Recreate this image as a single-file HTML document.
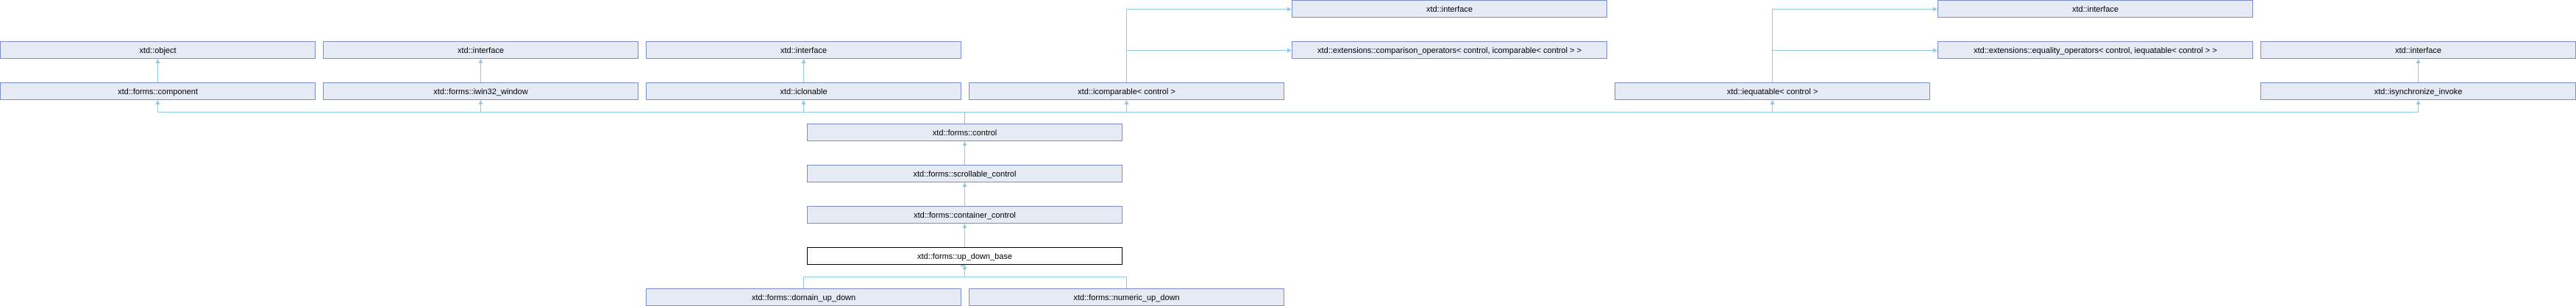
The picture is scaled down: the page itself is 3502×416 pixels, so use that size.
<!DOCTYPE html>
<html><head><style>
html,body{margin:0;padding:0;background:#fff;}
svg{display:block;}
text{font-family:"Liberation Sans",Arial,sans-serif;font-size:11px;fill:#000;}
</style></head><body>
<svg width="3502" height="416" xmlns="http://www.w3.org/2000/svg">
<defs>
<marker id="a" markerWidth="6" markerHeight="6" refX="5" refY="3" orient="auto" markerUnits="userSpaceOnUse">
<path d="M0,0 L6,3 L0,6 Z" fill="#8fcbe8"/>
</marker>
</defs>
<g fill="none" stroke="#8fcbe8" stroke-width="1">
<!-- bus -->
<path d="M214.5,152.5 H3287.5"/>
<path d="M214.5,152.5 V137" marker-end="url(#a)"/>
<path d="M653.5,152.5 V137" marker-end="url(#a)"/>
<path d="M1092.5,152.5 V137" marker-end="url(#a)"/>
<path d="M1531.5,152.5 V137" marker-end="url(#a)"/>
<path d="M2409.5,152.5 V137" marker-end="url(#a)"/>
<path d="M3287.5,152.5 V137" marker-end="url(#a)"/>
<path d="M1311.5,168 V152.5"/>
<!-- row 112->56 -->
<path d="M214.5,112 V81" marker-end="url(#a)"/>
<path d="M653.5,112 V81" marker-end="url(#a)"/>
<path d="M1092.5,112 V81" marker-end="url(#a)"/>
<path d="M3287.5,112 V81" marker-end="url(#a)"/>
<!-- icomparable -->
<path d="M1531.5,112 V12.5 H1755" marker-end="url(#a)"/>
<path d="M1531.5,68.5 H1755" marker-end="url(#a)"/>
<!-- iequatable -->
<path d="M2409.5,112 V12.5 H2633" marker-end="url(#a)"/>
<path d="M2409.5,68.5 H2633" marker-end="url(#a)"/>
<!-- chain -->
<path d="M1311.5,224 V193" marker-end="url(#a)"/>
<path d="M1311.5,280 V249" marker-end="url(#a)"/>
<path d="M1311.5,336 V305" marker-end="url(#a)"/>
<path d="M1311.5,361" marker-end="url(#a)"/>
<path d="M1311.5,376.5 V361" marker-end="url(#a)"/>
<path d="M1092.5,392 V376.5 H1531.5 V392"/>
</g>
<g stroke="#7b8fcc" stroke-width="1" fill="#e6eaf4">
<rect x="0.5" y="56.5" width="428" height="23"/>
<rect x="439.5" y="56.5" width="428" height="23"/>
<rect x="878.5" y="56.5" width="428" height="23"/>
<rect x="1756.5" y="0.5" width="428" height="23"/>
<rect x="1756.5" y="56.5" width="428" height="23"/>
<rect x="2634.5" y="0.5" width="428" height="23"/>
<rect x="2634.5" y="56.5" width="428" height="23"/>
<rect x="3073.5" y="56.5" width="428" height="23"/>
<rect x="0.5" y="112.5" width="428" height="23"/>
<rect x="439.5" y="112.5" width="428" height="23"/>
<rect x="878.5" y="112.5" width="428" height="23"/>
<rect x="1317.5" y="112.5" width="428" height="23"/>
<rect x="2195.5" y="112.5" width="428" height="23"/>
<rect x="3073.5" y="112.5" width="428" height="23"/>
<rect x="1097.5" y="168.5" width="428" height="23"/>
<rect x="1097.5" y="224.5" width="428" height="23"/>
<rect x="1097.5" y="280.5" width="428" height="23"/>
<rect x="1097.5" y="336.5" width="428" height="23" fill="#fff" stroke="#000"/>
<rect x="878.5" y="392.5" width="428" height="23"/>
<rect x="1317.5" y="392.5" width="428" height="23"/>
</g>
<g text-anchor="middle">
<text x="214.5" y="72">xtd::object</text>
<text x="653.5" y="72">xtd::interface</text>
<text x="1092.5" y="72">xtd::interface</text>
<text x="1970.5" y="16">xtd::interface</text>
<text x="1970.5" y="72">xtd::extensions::comparison_operators&lt; control, icomparable&lt; control &gt; &gt;</text>
<text x="2848.5" y="16">xtd::interface</text>
<text x="2848.5" y="72">xtd::extensions::equality_operators&lt; control, iequatable&lt; control &gt; &gt;</text>
<text x="3287.5" y="72">xtd::interface</text>
<text x="214.5" y="128">xtd::forms::component</text>
<text x="653.5" y="128">xtd::forms::iwin32_window</text>
<text x="1092.5" y="128">xtd::iclonable</text>
<text x="1531.5" y="128">xtd::icomparable&lt; control &gt;</text>
<text x="2409.5" y="128">xtd::iequatable&lt; control &gt;</text>
<text x="3287.5" y="128">xtd::isynchronize_invoke</text>
<text x="1311.5" y="184">xtd::forms::control</text>
<text x="1311.5" y="240">xtd::forms::scrollable_control</text>
<text x="1311.5" y="296">xtd::forms::container_control</text>
<text x="1311.5" y="352">xtd::forms::up_down_base</text>
<text x="1092.5" y="408">xtd::forms::domain_up_down</text>
<text x="1531.5" y="408">xtd::forms::numeric_up_down</text>
</g>
</svg>
</body></html>
